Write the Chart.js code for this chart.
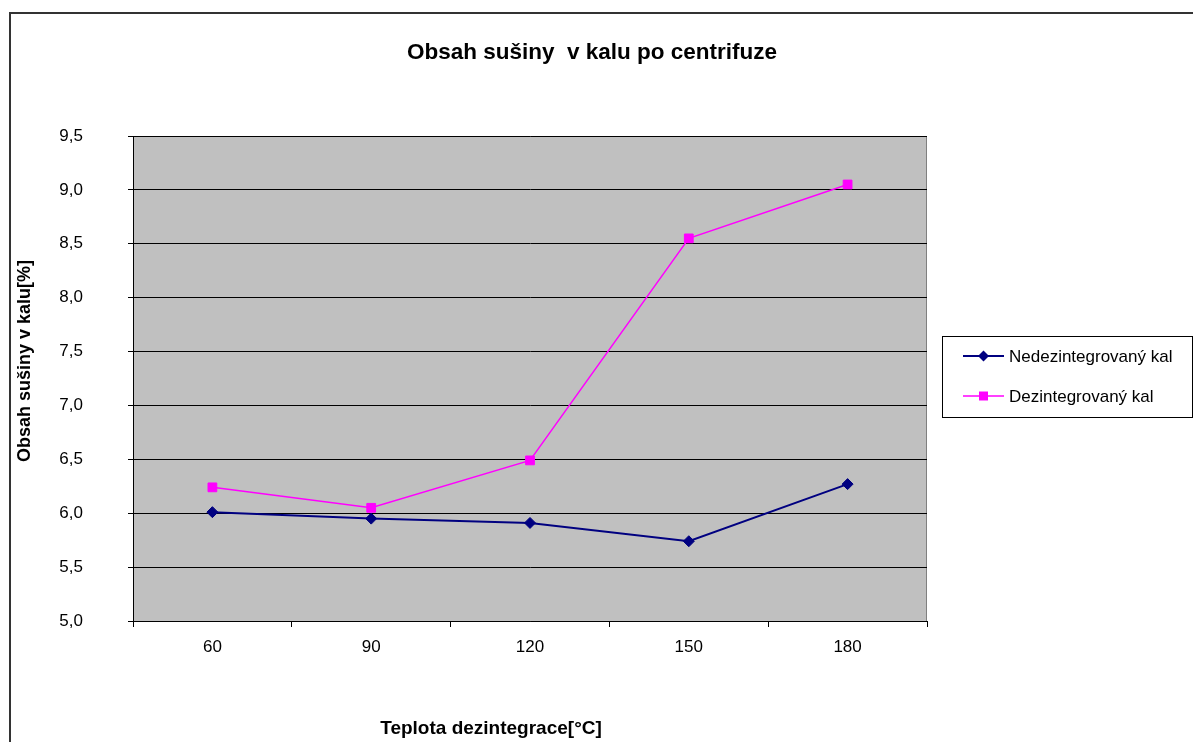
<!DOCTYPE html>
<html>
<head>
<meta charset="utf-8">
<script src="https://cdn.jsdelivr.net/npm/chart.js@4/dist/chart.umd.min.js"></script>
<style>
  html, body { margin: 0; padding: 0; background: #fff; }
  #graf { display: block; }
</style>
</head>
<body>
<canvas id="graf" width="1193" height="742"></canvas>
<script>
// data
const teploty = ['60', '90', '120', '150', '180'];
const nedezintegrovany = [6.01, 5.95, 5.91, 5.74, 6.27];
const dezintegrovany = [6.24, 6.05, 6.49, 8.55, 9.05];
const nazvySerii = ['Nedezintegrovaný kal', 'Dezintegrovaný kal'];

const nadpis = 'Obsah sušiny  v kalu po centrifuze';
const osaX = 'Teplota dezintegrace[°C]';
const osaY = 'Obsah sušiny v kalu[%]';

const FONT = "'Liberation Sans', Arial, sans-serif";

// draws frame, plot background, titles and the boxed legend
const excelLook = {
  id: 'excelLook',
  beforeDraw(chart) {
    const {ctx, chartArea: a} = chart;
    ctx.save();
    ctx.fillStyle = '#c0c0c0';
    ctx.fillRect(a.left, a.top, a.right - a.left, a.bottom - a.top);
    ctx.strokeStyle = '#808080';
    ctx.lineWidth = 1;
    ctx.beginPath();
    ctx.moveTo(a.left, a.top + 0.5);
    ctx.lineTo(a.right - 0.5, a.top + 0.5);
    ctx.lineTo(a.right - 0.5, a.bottom);
    ctx.stroke();
    ctx.restore();
  },
  afterDraw(chart) {
    const ctx = chart.ctx;
    ctx.save();
    // outer frame
    ctx.strokeStyle = '#333';
    ctx.lineWidth = 2;
    ctx.strokeRect(10, 13, 1300, 900);

    ctx.fillStyle = '#000';
    ctx.textAlign = 'center';
    ctx.textBaseline = 'middle';
    ctx.font = 'bold 22.5px ' + FONT;
    ctx.fillText(nadpis, 592, 53);

    ctx.font = 'bold 19px ' + FONT;
    ctx.fillText(osaX, 491, 729);

    // y title, rotated
    ctx.save();
    ctx.translate(25, 361);
    ctx.rotate(-Math.PI / 2);
    ctx.font = 'bold 18px ' + FONT;
    ctx.fillText(osaY, 0, 0);
    ctx.restore();

    // legend
    ctx.strokeStyle = '#000';
    ctx.lineWidth = 1;
    ctx.strokeRect(942.5, 336.5, 250, 81);
    ctx.font = '17px ' + FONT;
    ctx.textAlign = 'left';
    chart.data.datasets.forEach((ds, i) => {
      const y = 356 + i * 40;
      ctx.strokeStyle = ds.borderColor;
      ctx.lineWidth = ds.borderWidth;
      ctx.beginPath();
      ctx.moveTo(963, y);
      ctx.lineTo(1004, y);
      ctx.stroke();
      ctx.fillStyle = ds.backgroundColor;
      ctx.beginPath();
      if (ds.pointStyle === 'rectRot') {
        ctx.moveTo(983.5, y - 5.5);
        ctx.lineTo(989, y);
        ctx.lineTo(983.5, y + 5.5);
        ctx.lineTo(978, y);
        ctx.closePath();
      } else {
        ctx.rect(979, y - 4.5, 9, 9);
      }
      ctx.fill();
      ctx.fillStyle = '#000';
      ctx.fillText(ds.label, 1009, y + 1);
    });
    ctx.restore();
  }
};

new Chart(document.getElementById('graf'), {
  type: 'line',
  data: {
    labels: teploty,
    datasets: [{
      label: nazvySerii[0],
      data: nedezintegrovany,
      borderColor: '#000080',
      backgroundColor: '#000080',
      borderWidth: 2,
      pointStyle: 'rectRot',
      pointRadius: 5.5,
      pointBorderWidth: 1,
      tension: 0
    }, {
      label: nazvySerii[1],
      data: dezintegrovany,
      borderColor: '#ff00ff',
      backgroundColor: '#ff00ff',
      borderWidth: 1.5,
      pointStyle: 'rect',
      pointRadius: 6.2,
      pointBorderWidth: 1,
      tension: 0
    }]
  },
  options: {
    responsive: false,
    animation: false,
    layout: { padding: { left: 0, top: 136, right: 266, bottom: 0 } },
    plugins: {
      legend: { display: false },
      title: { display: false },
      tooltip: { enabled: false }
    },
    scales: {
      x: {
        offset: true,
        afterFit(s) { s.height = 121; },
        grid: {
          offset: true,
          drawOnChartArea: false,
          color: '#000',
          tickLength: 6,
          tickColor: '#000'
        },
        border: { color: '#000', width: 1 },
        ticks: { color: '#000', padding: 10, font: { family: FONT, size: 17 } }
      },
      y: {
        min: 5,
        max: 9.5,
        afterFit(s) { s.width = 133; },
        grid: { color: '#000', tickLength: 5, tickColor: '#000' },
        border: { color: '#000', width: 1 },
        ticks: {
          stepSize: 0.5,
          color: '#000',
          padding: 45,
          font: { family: FONT, size: 17 },
          callback: v => v.toFixed(1).replace('.', ',')
        }
      }
    }
  },
  plugins: [excelLook]
});
</script>
</body>
</html>
